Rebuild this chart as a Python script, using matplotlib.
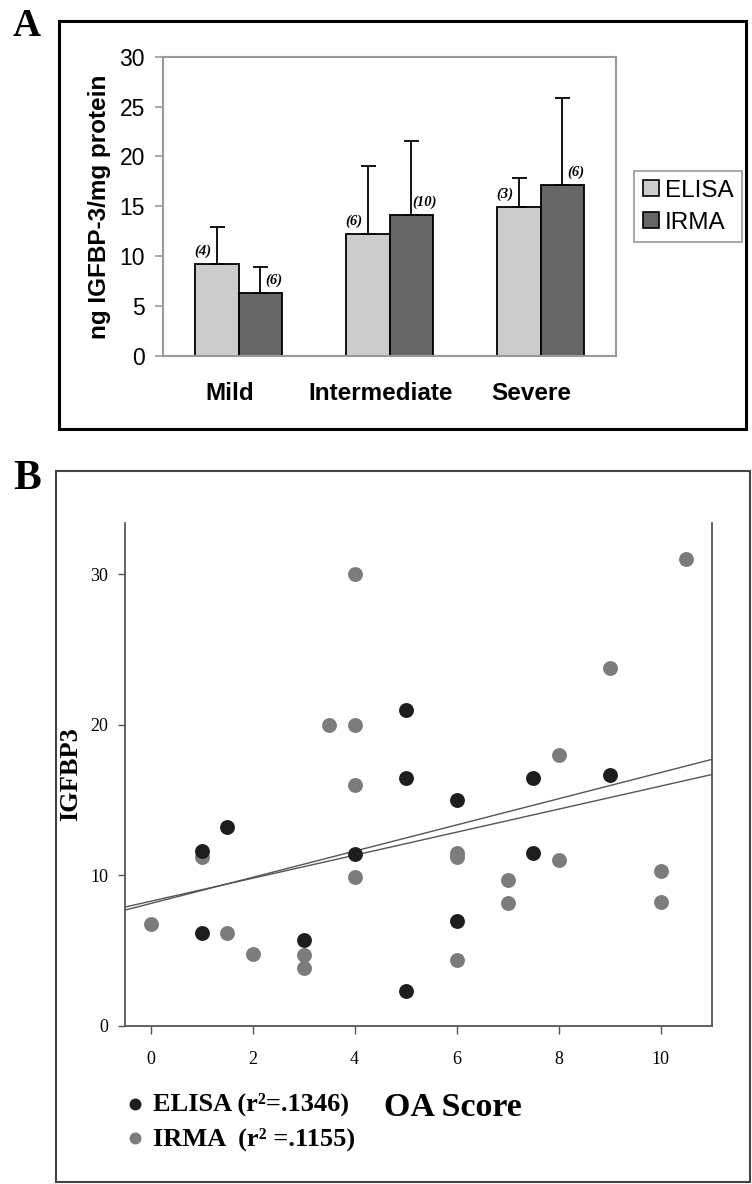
import numpy as np
import matplotlib
matplotlib.use("Agg")
import matplotlib.pyplot as plt
from matplotlib.patches import Rectangle, Patch

# panel A data
categories = ["Mild", "Intermediate", "Severe"]
elisa_mean = [9.2, 12.2, 14.9]
elisa_err = [3.7, 6.8, 2.9]
irma_mean = [6.3, 14.1, 17.1]
irma_err = [2.6, 7.5, 8.8]
elisa_n = ["(4)", "(6)", "(3)"]
irma_n = ["(6)", "(10)", "(6)"]

# panel B data (OA score vs IGFBP3)
elisa_x = [1, 1, 1.5, 3, 4, 5, 5, 5, 6, 6, 7.5, 7.5, 9]
elisa_y = [11.6, 6.2, 13.2, 5.7, 11.4, 21.0, 16.5, 2.3, 15.0, 7.0, 16.5, 11.5, 16.7]
irma_x = [0, 1, 1.5, 2, 3, 3, 3.5, 4, 4, 4, 4, 6, 6, 6, 7, 7, 8, 8, 9, 10, 10, 10.5]
irma_y = [6.8, 11.2, 6.2, 4.8, 4.7, 3.85, 20.0, 30.0, 20.0, 16.0, 9.9, 11.5, 11.2, 4.4,
          9.7, 8.15, 18.0, 11.0, 23.75, 10.3, 8.25, 31.0]
# regression lines: intercept, slope
fit_intercept = [8.28, 8.13]
fit_slope = [0.765, 0.87]
fit_labels = ["ELISA (r\u00b2=.1346)", "IRMA  (r\u00b2 =.1155)"]

SANS = "Liberation Sans"
SERIF = "Liberation Serif"

W, H = 752, 1184
fig = plt.figure(figsize=(W / 100, H / 100), dpi=100)


def fx(px):
    return px / W


def fy(py):
    return 1 - py / H


# ---------------- panel A ----------------
fig.add_artist(Rectangle((fx(59), fy(429)), fx(746) - fx(59), fy(21) - fy(429),
                         transform=fig.transFigure, fill=False, ec="black", lw=2.2))
fig.text(fx(13), fy(36), "A", family=SERIF, weight="bold", fontsize=28, va="baseline")

axA = fig.add_axes([fx(163), fy(356), fx(616) - fx(163), fy(56.7) - fy(356)])
x = np.arange(len(categories))
bw = 0.29
axA.bar(x - bw / 2, elisa_mean, bw, color="#cccccc", edgecolor="black", lw=1.3, zorder=2)
axA.bar(x + bw / 2, irma_mean, bw, color="#666666", edgecolor="black", lw=1.3, zorder=2)
axA.errorbar(x - bw / 2, elisa_mean, yerr=[np.zeros(3), elisa_err], fmt="none",
             ecolor="black", elinewidth=1.3, capsize=5.4, capthick=1.3, zorder=3)
axA.errorbar(x + bw / 2, irma_mean, yerr=[np.zeros(3), irma_err], fmt="none",
             ecolor="black", elinewidth=1.3, capsize=5.4, capthick=1.3, zorder=3)
for i in range(len(categories)):
    axA.text(x[i] - bw / 2 - 0.09, elisa_mean[i] + 1.3, elisa_n[i], ha="center", va="center",
             family=SERIF, style="italic", weight="bold", fontsize=10.5)
    axA.text(x[i] + bw / 2 + 0.09, irma_mean[i] + 1.3, irma_n[i], ha="center", va="center",
             family=SERIF, style="italic", weight="bold", fontsize=10.5)

axA.set_xlim(-0.5, 2.5)
axA.set_ylim(0, 30)
axA.set_yticks(range(0, 31, 5))
axA.set_xticks(x - 0.06, categories)
for lab in axA.get_xticklabels():
    lab.set_family(SANS)
    lab.set_weight("bold")
    lab.set_fontsize(17.5)
for lab in axA.get_yticklabels():
    lab.set_family(SANS)
    lab.set_fontsize(16.5)
axA.tick_params(axis="x", length=0, pad=19)
axA.tick_params(axis="y", direction="out", length=6, width=1.2, color="#999999", pad=7)
for s in axA.spines.values():
    s.set_color("#999999")
    s.set_linewidth(1.5)
axA.set_ylabel("ng IGFBP-3/mg protein", family=SANS, weight="bold", fontsize=17.5, labelpad=6)

legA = axA.legend([Patch(fc="#cccccc", ec="black", lw=1.2), Patch(fc="#666666", ec="black", lw=1.2)],
                  ["ELISA", "IRMA"], loc="upper left", bbox_to_anchor=(fx(634), fy(171)),
                  bbox_transform=fig.transFigure, prop={"family": SANS, "size": 17.5},
                  fancybox=False, edgecolor="#999999", framealpha=1, borderaxespad=0,
                  handlelength=0.66, handleheight=0.66, handletextpad=0.25,
                  labelspacing=0.42, borderpad=0.35)
legA.get_frame().set_linewidth(1.2)

# ---------------- panel B ----------------
fig.add_artist(Rectangle((fx(56), fy(1182)), fx(750) - fx(56), fy(470.7) - fy(1182),
                         transform=fig.transFigure, fill=False, ec="#444444", lw=1.5))
fig.text(fx(13), fy(489), "B", family=SERIF, weight="bold", fontsize=30, va="baseline")

axB = fig.add_axes([fx(125), fy(1026), fx(711.7) - fx(125), fy(523) - fy(1026)])
for b, m in zip(fit_intercept, fit_slope):
    axB.axline((0, b), slope=m, color="#555555", lw=1.0, zorder=1)
sc_e = axB.scatter(elisa_x, elisa_y, s=115, color="#1e1e1e", lw=0, zorder=3)
sc_i = axB.scatter(irma_x, irma_y, s=115, color="#7c7c7c", lw=0, zorder=2)

axB.set_xlim(-0.5, 11)
axB.set_ylim(0, 33.4)
axB.set_xticks(range(0, 11, 2))
axB.set_yticks([0, 10, 20, 30])
for lab in axB.get_xticklabels() + axB.get_yticklabels():
    lab.set_family(SERIF)
    lab.set_fontsize(13)
axB.tick_params(axis="x", direction="out", length=6, width=1.0, color="#555555", pad=12)
axB.tick_params(axis="y", direction="out", length=5, width=1.0, color="#555555", pad=7)
axB.spines["top"].set_visible(False)
for k in ["left", "bottom", "right"]:
    axB.spines[k].set_color("#555555")
    axB.spines[k].set_linewidth(1.3)
axB.set_ylabel("IGFBP3", family=SERIF, weight="bold", fontsize=19, labelpad=6)

legB = axB.legend([sc_e, sc_i], fit_labels, loc="center left",
                  bbox_to_anchor=(fx(124), fy(1121.5)), bbox_transform=fig.transFigure,
                  frameon=False, prop={"family": SERIF, "weight": "bold", "size": 19},
                  handlelength=0.8, handletextpad=0.3, labelspacing=0.4, borderpad=0,
                  borderaxespad=0, markerscale=0.8, scatterpoints=1)
fig.text(fx(453), fy(1116), "OA Score", family=SERIF, weight="bold", fontsize=24.5,
         ha="center", va="baseline")

fig.savefig("out.png", dpi=100)
